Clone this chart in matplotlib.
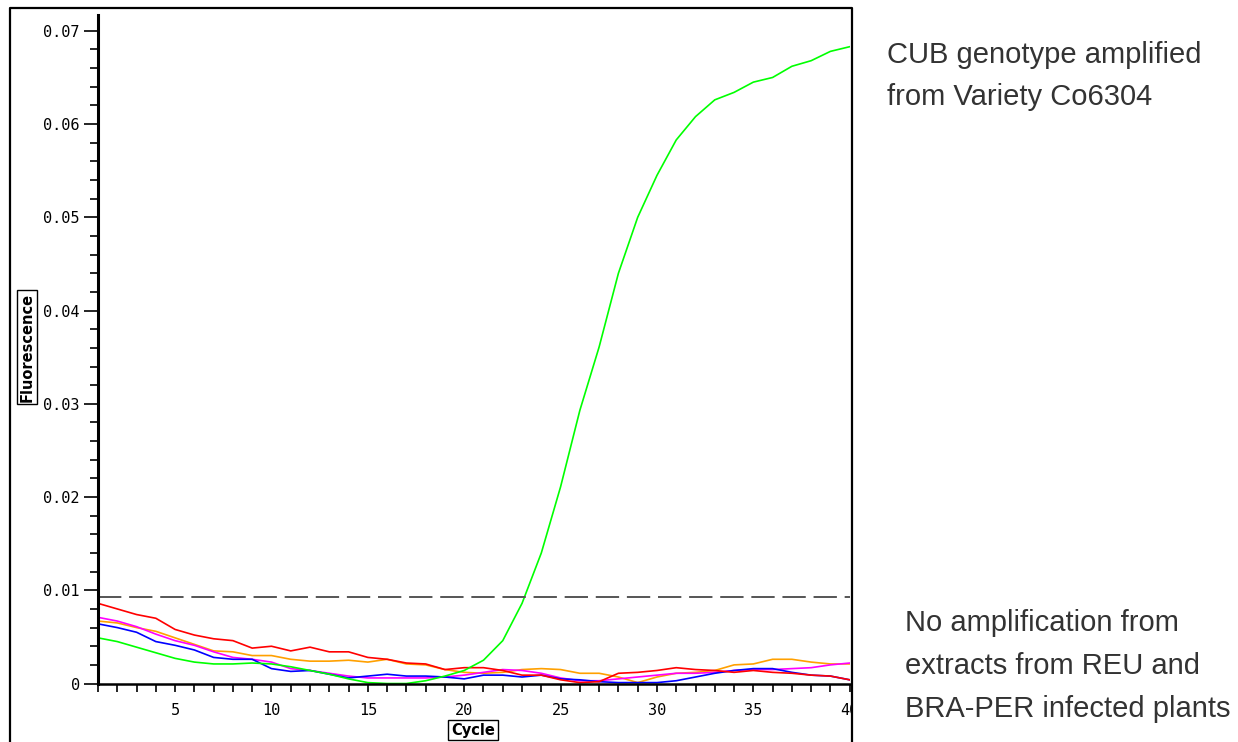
import numpy as np
import matplotlib
matplotlib.use('Agg')
import matplotlib.pyplot as plt
from matplotlib.lines import Line2D
from matplotlib.ticker import MultipleLocator, FixedLocator
from matplotlib.transforms import Bbox, TransformedBbox


# qPCR amplification curves, fluorescence per cycle for each well

cycles = np.arange(1, 41)

green = [0.0049, 0.0045, 0.0039, 0.0033, 0.0027, 0.0023, 0.0021, 0.0021, 0.0022, 0.0021,
         0.0018, 0.0014, 0.0010, 0.0005, 0.0001, 0.0000, 0.0000, 0.0003, 0.0008, 0.0014,
         0.0025, 0.0046, 0.0086, 0.0140, 0.0211, 0.0293, 0.0361, 0.0440, 0.0500, 0.0545,
         0.0583, 0.0608, 0.0626, 0.0634, 0.0645, 0.0650, 0.0662, 0.0668, 0.0678, 0.0683]

red = [0.0086, 0.0080, 0.0074, 0.0070, 0.0058, 0.0052, 0.0048, 0.0046, 0.0038, 0.0040,
       0.0035, 0.0039, 0.0034, 0.0034, 0.0028, 0.0026, 0.0022, 0.0021, 0.0015, 0.0017,
       0.0017, 0.0014, 0.0009, 0.0009, 0.0004, 0.0001, 0.0002, 0.0011, 0.0012, 0.0014,
       0.0017, 0.0015, 0.0014, 0.0012, 0.0014, 0.0012, 0.0011, 0.0009, 0.0008, 0.0004]

orange = [0.0067, 0.0065, 0.0060, 0.0056, 0.0049, 0.0042, 0.0035, 0.0034, 0.0030, 0.0030,
          0.0026, 0.0024, 0.0024, 0.0025, 0.0023, 0.0026, 0.0021, 0.0020, 0.0015, 0.0012,
          0.0011, 0.0012, 0.0015, 0.0016, 0.0015, 0.0011, 0.0011, 0.0007, 0.0001, 0.0007,
          0.0011, 0.0012, 0.0014, 0.0020, 0.0021, 0.0026, 0.0026, 0.0023, 0.0021, 0.0021]

magenta = [0.0071, 0.0067, 0.0061, 0.0053, 0.0046, 0.0041, 0.0034, 0.0028, 0.0026, 0.0023,
           0.0016, 0.0014, 0.0011, 0.0008, 0.0006, 0.0006, 0.0006, 0.0006, 0.0007, 0.0009,
           0.0012, 0.0015, 0.0014, 0.0011, 0.0006, 0.0003, 0.0003, 0.0005, 0.0007, 0.0009,
           0.0011, 0.0011, 0.0012, 0.0014, 0.0015, 0.0015, 0.0016, 0.0017, 0.0020, 0.0022]

blue = [0.0064, 0.0060, 0.0055, 0.0045, 0.0041, 0.0036, 0.0028, 0.0026, 0.0026, 0.0016,
        0.0013, 0.0014, 0.0010, 0.0006, 0.0008, 0.0010, 0.0008, 0.0008, 0.0007, 0.0005,
        0.0009, 0.0009, 0.0007, 0.0009, 0.0005, 0.0004, 0.0002, 0.0001, 0.0001, 0.0001,
        0.0003, 0.0007, 0.0011, 0.0014, 0.0016, 0.0016, 0.0012, 0.0009, 0.0008, 0.0004]

threshold = 0.0093

series = [(orange, '#ffa000'), (magenta, '#ff00ff'), (blue, '#0000ff'),
          (red, '#ff0000'), (green, '#00ff00')]

W, H = 1238, 742
fig = plt.figure(figsize=(W / 100, H / 100), dpi=100, facecolor='white')
ax = fig.add_axes([98 / W, 1 - 684 / H, (849.7 - 98) / W, (684 - 15) / H])

for values, color in series:
    ax.plot(cycles, values, color=color, linewidth=1.2, solid_joinstyle='miter')

ax.axhline(threshold, color='#555555', linewidth=1.4, dashes=(12, 4))

ax.set_xlim(1, 40)
ax.set_ylim(-0.00005, 0.0717)

for side in ('top', 'right'):
    ax.spines[side].set_visible(False)
ax.spines['left'].set_linewidth(2.2)
ax.spines['bottom'].set_linewidth(1.8)

ax.xaxis.set_major_locator(FixedLocator([5, 10, 15, 20, 25, 30, 35, 40]))
ax.xaxis.set_minor_locator(MultipleLocator(1))
ax.yaxis.set_major_locator(MultipleLocator(0.01))
ax.yaxis.set_minor_locator(MultipleLocator(0.002))
ax.yaxis.set_major_formatter(lambda v, p: '0' if abs(v) < 1e-9 else '%.2f' % v)

ax.tick_params(axis='x', which='both', direction='out', length=6, width=1.2, pad=8,
               labelsize=11)
ax.tick_params(axis='y', which='major', direction='out', length=10, width=1.2, pad=3,
               labelsize=11)
ax.tick_params(axis='y', which='minor', direction='out', length=6, width=1.2)
for lbl in ax.get_xticklabels() + ax.get_yticklabels():
    lbl.set_fontfamily('DejaVu Sans Mono')

# clip the last cycle label at the frame edge
clip = TransformedBbox(Bbox([[0, 0], [851 / W, 1]]), fig.transFigure)
for lbl in ax.get_xticklabels():
    lbl.set_clip_box(clip)
    lbl.set_clip_on(True)

box = dict(boxstyle='square,pad=0.18', facecolor='white', edgecolor='black', linewidth=1)
fig.text(27 / W, 1 - 347 / H, 'Fluorescence', rotation=90, ha='center', va='center',
         fontsize=10.5, fontweight='bold', bbox=box)
fig.text(473 / W, 1 - 730 / H, 'Cycle', ha='center', va='center',
         fontsize=10.5, fontweight='bold', bbox=box)

# outer frame around the plot panel
frame_x = [10 / W, 10 / W, 851.5 / W, 851.5 / W]
frame_y = [-0.05, 1 - 8 / H, 1 - 8 / H, -0.05]
fig.add_artist(Line2D(frame_x, frame_y, color='black', linewidth=1.6,
                      transform=fig.transFigure))

note_font = dict(family='Liberation Sans', fontsize=21, color='#333333',
                 ha='left', va='center', linespacing=1.66)
fig.text(887 / W, 1 - 76 / H, 'CUB genotype amplified\nfrom Variety Co6304', **note_font)
fig.text(905 / W, 1 - 666 / H,
         'No amplification from\nextracts from REU and\nBRA-PER infected plants', **note_font)

fig.savefig('out.png', dpi=100, facecolor='white')
